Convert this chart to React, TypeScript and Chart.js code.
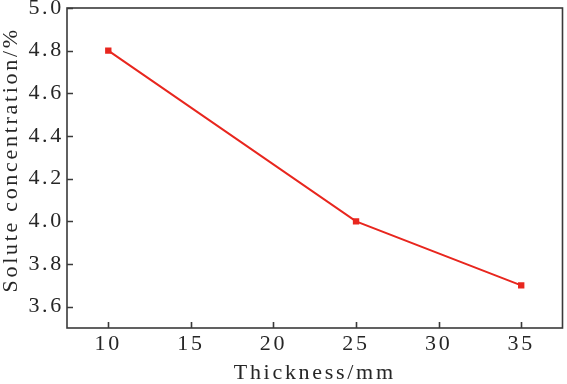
import React, { useEffect, useRef } from "react";
import { Chart, registerables } from "chart.js";

Chart.register(...registerables);

const thickness = [10, 25, 35];
const concentration = [4.8, 4.0, 3.7];
const xTicks = [10, 15, 20, 25, 30, 35];
const yTicks = [3.6, 3.8, 4.0, 4.2, 4.4, 4.6, 4.8, 5.0];

const AXIS_COLOR = "#3a3a3a";
const TEXT_COLOR = "#262626";
const RED = "#e8261e";
const FONT = "'Liberation Serif', 'Times New Roman', serif";
const SPACING = "2.7px";

const spacingPlugin = {
  id: "spacing",
  beforeDraw(chart: any) {
    chart.ctx.letterSpacing = SPACING;
  },
};

const framePlugin = {
  id: "frame",
  afterDraw(chart: any) {
    const { ctx, chartArea } = chart;
    const xs = chart.scales.x;
    const ys = chart.scales.y;
    ctx.save();
    ctx.strokeStyle = AXIS_COLOR;
    ctx.lineWidth = 1.6;
    ctx.strokeRect(chartArea.left, chartArea.top, chartArea.right - chartArea.left, chartArea.bottom - chartArea.top);
    ctx.beginPath();
    for (const v of xTicks) {
      const px = Math.round(xs.getPixelForValue(v)) + 0.5;
      ctx.moveTo(px, chartArea.bottom);
      ctx.lineTo(px, chartArea.bottom - 6);
    }
    for (const v of yTicks) {
      const py = Math.round(ys.getPixelForValue(v)) + 0.5;
      ctx.moveTo(chartArea.left, py);
      ctx.lineTo(chartArea.left + 6, py);
    }
    ctx.stroke();
    ctx.restore();
  },
};

export default function App() {
  const ref = useRef<HTMLCanvasElement | null>(null);
  useEffect(() => {
    document.body.style.margin = "0";
    if (!ref.current) return;
    const chart = new Chart(ref.current, {
      type: "line",
      data: {
        datasets: [
          {
            data: thickness.map((x, i) => ({ x, y: concentration[i] })),
            borderColor: RED,
            backgroundColor: RED,
            borderWidth: 2,
            pointStyle: "rect",
            pointRadius: 4.5,
            pointBorderWidth: 0,
            tension: 0,
          },
        ],
      },
      options: {
        animation: false,
        responsive: false,
        maintainAspectRatio: false,
        layout: { padding: { top: 8, right: 2, left: 0, bottom: 0 } },
        plugins: { legend: { display: false }, tooltip: { enabled: false } },
        scales: {
          x: {
            type: "linear",
            min: 7.5,
            max: 37.5,
            afterBuildTicks: (s: any) => {
              s.ticks = xTicks.map((v) => ({ value: v }));
            },
            afterFit: (s: any) => {
              s.height = 56;
              s.paddingLeft = 0;
              s.paddingRight = 0;
            },
            grid: { display: false, drawTicks: false },
            border: { display: false },
            ticks: {
              color: TEXT_COLOR,
              padding: 3,
              font: { family: FONT, size: 22 },
              callback: (v: any) => String(v),
            },
            title: {
              display: true,
              text: "Thickness/mm",
              color: TEXT_COLOR,
              font: { family: FONT, size: 22 },
              padding: { top: 0, bottom: -2 },
            },
          },
          y: {
            type: "linear",
            min: 3.5,
            max: 5.0,
            afterBuildTicks: (s: any) => {
              s.ticks = yTicks.map((v) => ({ value: v }));
            },
            afterFit: (s: any) => {
              s.width = 67;
              s.paddingTop = 0;
              s.paddingBottom = 0;
            },
            grid: { display: false, drawTicks: false },
            border: { display: false },
            ticks: {
              color: TEXT_COLOR,
              padding: 3,
              font: { family: FONT, size: 22 },
              callback: (v: any) => Number(v).toFixed(1),
            },
            title: {
              display: true,
              text: "  Solute concentration/%",
              color: TEXT_COLOR,
              font: { family: FONT, size: 22 },
              padding: { top: -2, bottom: 0 },
            },
          },
        },
      },
      plugins: [spacingPlugin, framePlugin],
    });
    return () => chart.destroy();
  }, []);
  return (
    <div style={{ position: "absolute", left: 0, top: 0, width: 567, height: 384, background: "#fff" }}>
      <canvas ref={ref} width={567} height={384} style={{ width: 567, height: 384 }} />
    </div>
  );
}
